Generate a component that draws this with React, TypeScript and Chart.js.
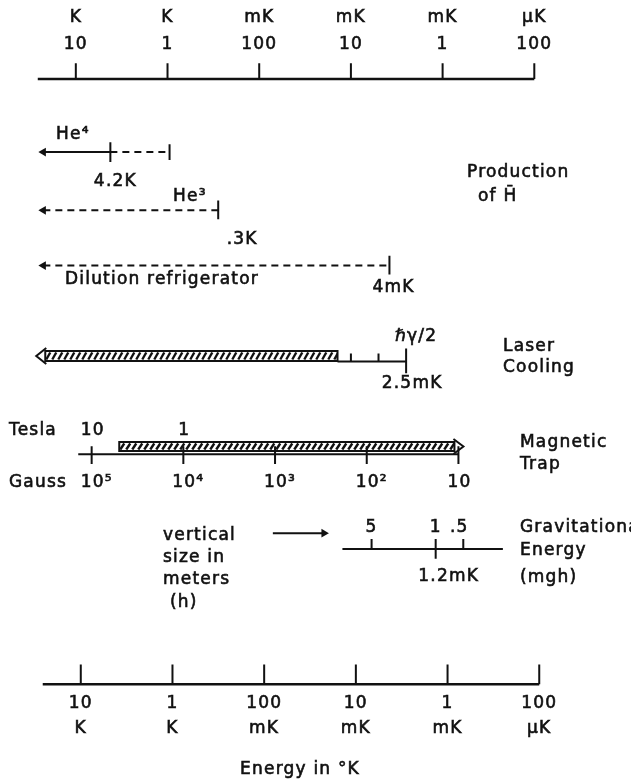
import React, { useEffect, useRef } from 'react';
import { Chart, registerables } from 'chart.js';

Chart.register(...registerables);

// ---------------- data (temperatures in kelvin) ----------------
const TEMP_TICKS_K = [10, 1, 0.1, 0.01, 0.001, 0.0001];
const TEMP_TICK_NUMBERS = ['10', '1', '100', '10', '1', '100'];
const TEMP_TICK_UNITS = ['K', 'K', 'mK', 'mK', 'mK', 'µK'];
const TEMP_AXIS_SPAN_K = [26, 0.0001];

const HE4_PUMPED_K = [22.6, 4.2];
const HE4_RANGE_K = [4.2, 0.95];
const HE3_RANGE_K = [22.6, 0.28];
const DILUTION_RANGE_K = [22.6, 0.0038];

const LASER_BAR_K = [27, 0.014];
const LASER_TAIL_K = [0.014, 0.0025];
const LASER_MINOR_TICKS_K = [0.01, 0.005];
const LASER_LIMIT_K = 0.0025;

const K_PER_GAUSS = 6.72e-5;
const GAUSS_PER_TESLA = 1e4;
const GAUSS_TICKS = [1e5, 1e4, 1e3, 1e2, 10];
const GAUSS_TICK_LABELS = ['10⁵', '10⁴', '10³', '10²', '10'];
const TESLA_TICKS_T = [10, 1];
const TESLA_TICK_LABELS = ['10', '1'];
const MAG_AXIS_GAUSS = [1.4e5, 10];
const MAG_BAR_GAUSS = [5e4, 10];

const K_PER_METER = 1.19e-3;
const HEIGHT_TICKS_M = [5, 1, 0.5];
const HEIGHT_TICK_LABELS = ['5', '1', '.5'];
const GRAV_AXIS_M = [10.4, 0.185];
const GRAV_POINTER_K = [0.071, 0.0197];

// ---------------- layout / style ----------------
const W = 631;
const H = 782;
const INK = '#111';
const FONT_FAMILY = '"DejaVu Sans", "Liberation Sans", sans-serif';
const ROW = {
  topUnit: 18, topNum: 45, topTick: 59, topAxis: 75,
  he4Label: 135, he4: 149, he4Val: 182,
  he3Label: 197, he3: 208, he3Val: 240,
  dil: 264, dilLabel: 280, dilVal: 288,
  prod1: 173, prod2: 197,
  laserTop: 351, laserBot: 361, laserSym: 337, laserVal: 384, laser1: 347, laser2: 368,
  tesla: 431, magBarTop: 442, magBarBot: 451, magAxis: 455, gauss: 483, mag1: 443, mag2: 465,
  gravNum: 528, gravPointer: 535, grav: 551, gravVal: 577,
  vert: [536, 558, 580, 603], gravT: [528, 551, 578],
  botAxis: 688, botTick: 668, botNum: 704, botUnit: 729, title: 770,
};

const K = (g: number) => g * K_PER_GAUSS;
const KM = (m: number) => m * K_PER_METER;

type P = { x: number; y: number };
const seg = (pts: P[], extra: any = {}) => ({
  data: pts,
  showLine: true,
  borderColor: INK,
  borderWidth: 2,
  pointRadius: 0,
  pointHoverRadius: 0,
  fill: false,
  ...extra,
});
const vtick = (xK: number, y1: number, y2: number, extra: any = {}) =>
  seg([{ x: xK, y: y1 }, { x: xK, y: y2 }], extra);
const leftArrow = { pointRadius: [5, 0], pointStyle: 'triangle', rotation: 270, pointBackgroundColor: INK, pointBorderWidth: 0 };
const DASH = [7, 5];

function buildDatasets() {
  const ds: any[] = [];
  // top temperature axis
  ds.push(seg([{ x: TEMP_AXIS_SPAN_K[0], y: ROW.topAxis }, { x: TEMP_AXIS_SPAN_K[1], y: ROW.topAxis }], { borderWidth: 2.5 }));
  TEMP_TICKS_K.forEach((t) => ds.push(vtick(t, ROW.topTick, ROW.topAxis)));
  // bottom temperature axis
  ds.push(seg([{ x: TEMP_AXIS_SPAN_K[0], y: ROW.botAxis }, { x: TEMP_AXIS_SPAN_K[1], y: ROW.botAxis }], { borderWidth: 2.5, xAxisID: 'xb' }));
  TEMP_TICKS_K.forEach((t) => ds.push(vtick(t, ROW.botTick, ROW.botAxis, { xAxisID: 'xb' })));
  // He4
  ds.push(seg([{ x: HE4_PUMPED_K[0], y: ROW.he4 }, { x: HE4_PUMPED_K[1], y: ROW.he4 }], leftArrow));
  ds.push(seg([{ x: HE4_RANGE_K[0], y: ROW.he4 }, { x: HE4_RANGE_K[1], y: ROW.he4 }], { borderDash: DASH, borderWidth: 2 }));
  ds.push(vtick(HE4_PUMPED_K[1], ROW.he4 - 10, ROW.he4 + 10));
  ds.push(vtick(HE4_RANGE_K[1], ROW.he4 - 8, ROW.he4 + 8));
  // He3
  ds.push(seg([{ x: HE3_RANGE_K[0], y: ROW.he3 }, { x: HE3_RANGE_K[1], y: ROW.he3 }], { ...leftArrow, borderDash: DASH, borderWidth: 2 }));
  ds.push(vtick(HE3_RANGE_K[1], ROW.he3 - 10, ROW.he3 + 9));
  // dilution
  ds.push(seg([{ x: DILUTION_RANGE_K[0], y: ROW.dil }, { x: DILUTION_RANGE_K[1], y: ROW.dil }], { ...leftArrow, borderDash: DASH, borderWidth: 2 }));
  ds.push(vtick(DILUTION_RANGE_K[1], ROW.dil - 10, ROW.dil + 9));
  // laser tail + ticks
  ds.push(seg([{ x: LASER_TAIL_K[0], y: ROW.laserBot }, { x: LASER_TAIL_K[1], y: ROW.laserBot }]));
  LASER_MINOR_TICKS_K.forEach((t) => ds.push(vtick(t, ROW.laserBot - 8, ROW.laserBot)));
  ds.push(vtick(LASER_LIMIT_K, ROW.laserTop - 3, ROW.laserBot + 12));
  // magnetic axis
  ds.push(seg([{ x: K(MAG_AXIS_GAUSS[0]), y: ROW.magAxis }, { x: K(MAG_AXIS_GAUSS[1]), y: ROW.magAxis }]));
  GAUSS_TICKS.forEach((g) => ds.push(vtick(K(g), ROW.magAxis - 8, ROW.magAxis + 10)));
  // gravitational axis
  ds.push(seg([{ x: KM(GRAV_AXIS_M[0]), y: ROW.grav }, { x: KM(GRAV_AXIS_M[1]), y: ROW.grav }]));
  HEIGHT_TICKS_M.forEach((m, i) => ds.push(vtick(KM(m), ROW.grav - 10, i === 1 ? ROW.grav + 10 : ROW.grav)));
  ds.push(seg([{ x: GRAV_POINTER_K[0], y: ROW.gravPointer }, { x: GRAV_POINTER_K[1], y: ROW.gravPointer }],
    { pointRadius: [0, 5], pointStyle: 'triangle', rotation: 90, pointBackgroundColor: INK, pointBorderWidth: 0 }));
  return ds;
}

function text(ctx: CanvasRenderingContext2D, s: string, x: number, y: number, align: CanvasTextAlign = 'center', size = 17, spacing = 1.2) {
  ctx.font = `${size}px ${FONT_FAMILY}`;
  ctx.textAlign = align;
  ctx.textBaseline = 'middle';
  (ctx as any).letterSpacing = `${spacing}px`;
  ctx.lineWidth = 0.6;
  ctx.strokeStyle = INK;
  ctx.fillText(s, x, y);
  ctx.strokeText(s, x, y);
}

function hatchedBar(ctx: CanvasRenderingContext2D, left: number, right: number, top: number, bottom: number, arrow: 'left' | 'right') {
  const head = 9;
  const rl = arrow === 'left' ? left + head : left;
  const rr = arrow === 'right' ? right - head : right;
  ctx.save();
  ctx.strokeStyle = INK;
  ctx.lineWidth = 2;
  ctx.strokeRect(rl, top, rr - rl, bottom - top);
  ctx.save();
  ctx.beginPath();
  ctx.rect(rl, top, rr - rl, bottom - top);
  ctx.clip();
  ctx.lineWidth = 2.4;
  for (let x = rl + 3; x < rr + 4; x += 6) {
    ctx.beginPath();
    ctx.moveTo(x - 2, bottom - 1.5);
    ctx.lineTo(x + 2, top + 1.5);
    ctx.stroke();
  }
  ctx.restore();
  const mid = (top + bottom) / 2;
  ctx.beginPath();
  if (arrow === 'left') {
    ctx.moveTo(rl + 1, top - 3);
    ctx.lineTo(left, mid);
    ctx.lineTo(rl + 1, bottom + 3);
  } else {
    ctx.moveTo(rr - 1, top - 3);
    ctx.lineTo(right, mid);
    ctx.lineTo(rr - 1, bottom + 3);
  }
  ctx.stroke();
  ctx.restore();
}

const diagramPlugin = {
  id: 'diagram',
  afterDatasetsDraw(chart: any) {
    const ctx: CanvasRenderingContext2D = chart.ctx;
    const xs = chart.scales.x;
    const xb = chart.scales.xb;
    const px = (k: number) => xs.getPixelForValue(k);
    const pb = (k: number) => xb.getPixelForValue(k);
    ctx.save();
    ctx.fillStyle = INK;

    // hatched bars
    hatchedBar(ctx, px(LASER_BAR_K[0]), px(LASER_BAR_K[1]), ROW.laserTop, ROW.laserBot, 'left');
    hatchedBar(ctx, px(K(MAG_BAR_GAUSS[0])), px(K(MAG_BAR_GAUSS[1])) + 5, ROW.magBarTop, ROW.magBarBot, 'right');

    // top & bottom axis labels
    TEMP_TICKS_K.forEach((t, i) => {
      text(ctx, TEMP_TICK_UNITS[i], px(t), ROW.topUnit);
      text(ctx, TEMP_TICK_NUMBERS[i], px(t), ROW.topNum);
      text(ctx, TEMP_TICK_NUMBERS[i], pb(t), ROW.botNum);
      text(ctx, TEMP_TICK_UNITS[i], pb(t), ROW.botUnit);
    });
    text(ctx, 'Energy in °K', 300, ROW.title);

    // cryogenics
    text(ctx, 'He⁴', 56, ROW.he4Label, 'left');
    text(ctx, `${HE4_PUMPED_K[1]}K`, px(HE4_PUMPED_K[1]) + 5, ROW.he4Val);
    text(ctx, 'He³', 173, ROW.he3Label, 'left');
    text(ctx, '.3K', px(HE3_RANGE_K[1]) + 24, ROW.he3Val);
    text(ctx, 'Dilution refrigerator', 65, ROW.dilLabel, 'left');
    text(ctx, '4mK', px(DILUTION_RANGE_K[1]) + 4, ROW.dilVal);
    text(ctx, 'Production', 467, ROW.prod1, 'left');
    text(ctx, 'of H̄', 478, ROW.prod2, 'left');

    // laser cooling
    text(ctx, 'ℏγ/2', px(LASER_LIMIT_K) + 10, ROW.laserSym);
    text(ctx, '2.5mK', px(LASER_LIMIT_K) + 6, ROW.laserVal);
    text(ctx, 'Laser', 503, ROW.laser1, 'left');
    text(ctx, 'Cooling', 503, ROW.laser2, 'left');

    // magnetic trap
    text(ctx, 'Tesla', 9, ROW.tesla, 'left');
    text(ctx, 'Gauss', 9, ROW.gauss, 'left');
    ctx.font = `17px ${FONT_FAMILY}`;
    (ctx as any).letterSpacing = '1.2px';
    const baseW = ctx.measureText('10').width;
    TESLA_TICKS_T.forEach((t, i) => text(ctx, TESLA_TICK_LABELS[i], px(K(t * GAUSS_PER_TESLA)) + 1, ROW.tesla));
    GAUSS_TICKS.forEach((g, i) => text(ctx, GAUSS_TICK_LABELS[i], px(K(g)) - baseW / 2 + 1, ROW.gauss, 'left'));
    text(ctx, 'Magnetic', 520, ROW.mag1, 'left');
    text(ctx, 'Trap', 520, ROW.mag2, 'left');

    // gravitational
    HEIGHT_TICKS_M.forEach((m, i) => text(ctx, HEIGHT_TICK_LABELS[i], px(KM(m)) + (i === 2 ? -4 : 0), ROW.gravNum));
    text(ctx, '1.2mK', px(KM(HEIGHT_TICKS_M[1])) + 13, ROW.gravVal);
    ['vertical', 'size in', 'meters', '(h)'].forEach((s, i) => text(ctx, s, i === 3 ? 170 : 163, ROW.vert[i], 'left'));
    ['Gravitational', 'Energy', '(mgh)'].forEach((s, i) => text(ctx, s, 520, ROW.gravT[i], 'left'));

    ctx.restore();
  },
};

export default function App() {
  const ref = useRef<HTMLCanvasElement | null>(null);
  useEffect(() => {
    if (!ref.current) return;
    const chart = new Chart(ref.current, {
      type: 'scatter',
      data: { datasets: buildDatasets() },
      options: {
        responsive: false,
        animation: false,
        events: [],
        layout: { padding: 0 },
        plugins: { legend: { display: false }, tooltip: { enabled: false }, title: { display: false } },
        scales: {
          x: { type: 'logarithmic', reverse: true, min: 1e-5, max: 59.2, display: false },
          xb: { type: 'logarithmic', axis: 'x', reverse: true, min: 1.132e-5, max: 67.06, display: false },
          y: { type: 'linear', reverse: true, min: 0, max: H, display: false },
        },
      } as any,
      plugins: [diagramPlugin],
    });
    return () => chart.destroy();
  }, []);
  return (
    <div style={{ position: 'absolute', left: 0, top: 0, width: W, height: H, background: '#fff' }}>
      <canvas ref={ref} width={W} height={H} style={{ display: 'block' }} />
    </div>
  );
}
